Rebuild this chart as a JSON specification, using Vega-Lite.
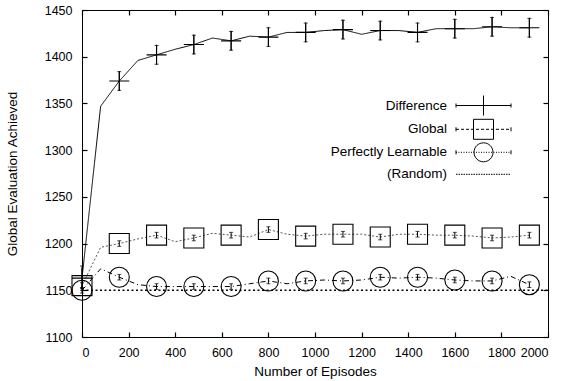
{
  "$schema": "https://vega.github.io/schema/vega-lite/v6.json",
  "width": 466,
  "height": 327,
  "autosize": {"type": "none"},
  "padding": {"left": 82, "top": 10, "right": 21, "bottom": 44},
  "config": {
    "font": "Liberation Sans",
    "view": {"stroke": "black", "strokeWidth": 1},
    "axis": {"labelFont": "Liberation Sans", "titleFont": "Liberation Sans", "labelColor": "black", "titleColor": "black", "labelFontSize": 12.5, "titleFontSize": 13.5, "titleFontWeight": "normal", "grid": false, "domain": false, "tickColor": "black", "tickWidth": 1.2, "labelOverlap": false, "format": "d"}
  },
  "datasets": {
    "lines": [
      {"series": "Difference", "ep": 0, "v": 1163}, {"series": "Difference", "ep": 80, "v": 1347}, {"series": "Difference", "ep": 160, "v": 1374}, {"series": "Difference", "ep": 240, "v": 1396}, {"series": "Difference", "ep": 320, "v": 1402}, {"series": "Difference", "ep": 400, "v": 1408}, {"series": "Difference", "ep": 480, "v": 1413}, {"series": "Difference", "ep": 560, "v": 1420}, {"series": "Difference", "ep": 640, "v": 1417}, {"series": "Difference", "ep": 720, "v": 1422}, {"series": "Difference", "ep": 800, "v": 1421}, {"series": "Difference", "ep": 880, "v": 1426}, {"series": "Difference", "ep": 960, "v": 1426}, {"series": "Difference", "ep": 1040, "v": 1428}, {"series": "Difference", "ep": 1120, "v": 1429}, {"series": "Difference", "ep": 1200, "v": 1424}, {"series": "Difference", "ep": 1280, "v": 1428}, {"series": "Difference", "ep": 1360, "v": 1428}, {"series": "Difference", "ep": 1440, "v": 1426}, {"series": "Difference", "ep": 1520, "v": 1430}, {"series": "Difference", "ep": 1600, "v": 1430}, {"series": "Difference", "ep": 1680, "v": 1430}, {"series": "Difference", "ep": 1760, "v": 1432}, {"series": "Difference", "ep": 1840, "v": 1431}, {"series": "Difference", "ep": 1920, "v": 1431},
      {"series": "Global", "ep": 0, "v": 1155}, {"series": "Global", "ep": 80, "v": 1196}, {"series": "Global", "ep": 160, "v": 1200}, {"series": "Global", "ep": 240, "v": 1205}, {"series": "Global", "ep": 320, "v": 1209}, {"series": "Global", "ep": 400, "v": 1202}, {"series": "Global", "ep": 480, "v": 1206}, {"series": "Global", "ep": 560, "v": 1211}, {"series": "Global", "ep": 640, "v": 1209}, {"series": "Global", "ep": 720, "v": 1207}, {"series": "Global", "ep": 800, "v": 1215}, {"series": "Global", "ep": 880, "v": 1210}, {"series": "Global", "ep": 960, "v": 1208}, {"series": "Global", "ep": 1040, "v": 1210}, {"series": "Global", "ep": 1120, "v": 1210}, {"series": "Global", "ep": 1200, "v": 1210}, {"series": "Global", "ep": 1280, "v": 1207}, {"series": "Global", "ep": 1360, "v": 1210}, {"series": "Global", "ep": 1440, "v": 1210}, {"series": "Global", "ep": 1520, "v": 1209}, {"series": "Global", "ep": 1600, "v": 1209}, {"series": "Global", "ep": 1680, "v": 1208}, {"series": "Global", "ep": 1760, "v": 1206}, {"series": "Global", "ep": 1840, "v": 1207}, {"series": "Global", "ep": 1920, "v": 1209},
      {"series": "Perfectly Learnable", "ep": 0, "v": 1150}, {"series": "Perfectly Learnable", "ep": 80, "v": 1173}, {"series": "Perfectly Learnable", "ep": 160, "v": 1164}, {"series": "Perfectly Learnable", "ep": 240, "v": 1156}, {"series": "Perfectly Learnable", "ep": 320, "v": 1154}, {"series": "Perfectly Learnable", "ep": 400, "v": 1154}, {"series": "Perfectly Learnable", "ep": 480, "v": 1154}, {"series": "Perfectly Learnable", "ep": 560, "v": 1154}, {"series": "Perfectly Learnable", "ep": 640, "v": 1154}, {"series": "Perfectly Learnable", "ep": 720, "v": 1157}, {"series": "Perfectly Learnable", "ep": 800, "v": 1160}, {"series": "Perfectly Learnable", "ep": 880, "v": 1157}, {"series": "Perfectly Learnable", "ep": 960, "v": 1160}, {"series": "Perfectly Learnable", "ep": 1040, "v": 1161}, {"series": "Perfectly Learnable", "ep": 1120, "v": 1160}, {"series": "Perfectly Learnable", "ep": 1200, "v": 1161}, {"series": "Perfectly Learnable", "ep": 1280, "v": 1164}, {"series": "Perfectly Learnable", "ep": 1360, "v": 1163}, {"series": "Perfectly Learnable", "ep": 1440, "v": 1164}, {"series": "Perfectly Learnable", "ep": 1520, "v": 1163}, {"series": "Perfectly Learnable", "ep": 1600, "v": 1161}, {"series": "Perfectly Learnable", "ep": 1680, "v": 1160}, {"series": "Perfectly Learnable", "ep": 1760, "v": 1160}, {"series": "Perfectly Learnable", "ep": 1840, "v": 1165}, {"series": "Perfectly Learnable", "ep": 1920, "v": 1156},
      {"series": "(Random)", "ep": 0, "v": 1150}, {"series": "(Random)", "ep": 2000, "v": 1150}
    ],
    "markers": [
      {"series": "Difference", "ep": 0, "v": 1163, "lo": 1150, "hi": 1176}, {"series": "Difference", "ep": 160, "v": 1374, "lo": 1364, "hi": 1384}, {"series": "Difference", "ep": 320, "v": 1402, "lo": 1392, "hi": 1412}, {"series": "Difference", "ep": 480, "v": 1413, "lo": 1403, "hi": 1423}, {"series": "Difference", "ep": 640, "v": 1417, "lo": 1407, "hi": 1427}, {"series": "Difference", "ep": 800, "v": 1421, "lo": 1411, "hi": 1431}, {"series": "Difference", "ep": 960, "v": 1426, "lo": 1416, "hi": 1436}, {"series": "Difference", "ep": 1120, "v": 1429, "lo": 1419, "hi": 1439}, {"series": "Difference", "ep": 1280, "v": 1428, "lo": 1418, "hi": 1438}, {"series": "Difference", "ep": 1440, "v": 1426, "lo": 1416, "hi": 1436}, {"series": "Difference", "ep": 1600, "v": 1430, "lo": 1420, "hi": 1440}, {"series": "Difference", "ep": 1760, "v": 1432, "lo": 1422, "hi": 1442}, {"series": "Difference", "ep": 1920, "v": 1431, "lo": 1421, "hi": 1441},
      {"series": "Global", "ep": 0, "v": 1155, "lo": 1152, "hi": 1158}, {"series": "Global", "ep": 160, "v": 1200, "lo": 1197, "hi": 1203}, {"series": "Global", "ep": 320, "v": 1209, "lo": 1206, "hi": 1212}, {"series": "Global", "ep": 480, "v": 1206, "lo": 1203, "hi": 1209}, {"series": "Global", "ep": 640, "v": 1209, "lo": 1206, "hi": 1212}, {"series": "Global", "ep": 800, "v": 1215, "lo": 1212, "hi": 1218}, {"series": "Global", "ep": 960, "v": 1208, "lo": 1205, "hi": 1211}, {"series": "Global", "ep": 1120, "v": 1210, "lo": 1207, "hi": 1213}, {"series": "Global", "ep": 1280, "v": 1207, "lo": 1204, "hi": 1210}, {"series": "Global", "ep": 1440, "v": 1210, "lo": 1207, "hi": 1213}, {"series": "Global", "ep": 1600, "v": 1209, "lo": 1206, "hi": 1212}, {"series": "Global", "ep": 1760, "v": 1206, "lo": 1203, "hi": 1209}, {"series": "Global", "ep": 1920, "v": 1209, "lo": 1206, "hi": 1212},
      {"series": "Perfectly Learnable", "ep": 0, "v": 1150, "lo": 1147, "hi": 1153}, {"series": "Perfectly Learnable", "ep": 160, "v": 1164, "lo": 1161, "hi": 1167}, {"series": "Perfectly Learnable", "ep": 320, "v": 1154, "lo": 1151, "hi": 1157}, {"series": "Perfectly Learnable", "ep": 480, "v": 1154, "lo": 1151, "hi": 1157}, {"series": "Perfectly Learnable", "ep": 640, "v": 1154, "lo": 1151, "hi": 1157}, {"series": "Perfectly Learnable", "ep": 800, "v": 1160, "lo": 1157, "hi": 1163}, {"series": "Perfectly Learnable", "ep": 960, "v": 1160, "lo": 1157, "hi": 1163}, {"series": "Perfectly Learnable", "ep": 1120, "v": 1160, "lo": 1157, "hi": 1163}, {"series": "Perfectly Learnable", "ep": 1280, "v": 1164, "lo": 1161, "hi": 1167}, {"series": "Perfectly Learnable", "ep": 1440, "v": 1164, "lo": 1161, "hi": 1167}, {"series": "Perfectly Learnable", "ep": 1600, "v": 1161, "lo": 1158, "hi": 1164}, {"series": "Perfectly Learnable", "ep": 1760, "v": 1160, "lo": 1157, "hi": 1163}, {"series": "Perfectly Learnable", "ep": 1920, "v": 1156, "lo": 1153, "hi": 1159}
    ],
    "keys": [
      {"series": "Difference"}, {"series": "Global"}, {"series": "Perfectly Learnable"}, {"series": "(Random)"}
    ]
  },
  "layer": [
    {
      "data": {"name": "lines"},
      "transform": [{"filter": "datum.series !== '(Random)'"}],
      "mark": {"type": "line", "strokeWidth": 1},
      "encoding": {
        "x": {"field": "ep", "type": "quantitative", "scale": {"domain": [0, 2000], "nice": false},
          "axis": {"orient": "bottom", "values": [0, 200, 400, 600, 800, 1000, 1200, 1400, 1600, 1800, 2000], "tickSize": -5, "labelPadding": 14, "title": "Number of Episodes", "titleY": 34, "titleBaseline": "middle"}},
        "y": {"field": "v", "type": "quantitative", "scale": {"domain": [1100, 1450], "nice": false, "zero": false},
          "axis": {"orient": "left", "values": [1100, 1150, 1200, 1250, 1300, 1350, 1400, 1450], "tickSize": -5, "labelPadding": 15, "title": "Global Evaluation Achieved", "titleX": -70, "titleBaseline": "middle"}},
        "detail": {"field": "series"},
        "color": {"field": "series", "type": "nominal", "scale": {"domain": ["Difference", "Global", "Perfectly Learnable"], "range": ["black", "#555555", "black"]}, "legend": null},
        "strokeDash": {"field": "series", "type": "nominal", "scale": {"domain": ["Difference", "Global", "Perfectly Learnable"], "range": [[1, 0], [2, 2], [5, 3, 1, 3]]}, "legend": null}
      }
    },
    {
      "data": {"name": "lines"},
      "transform": [{"filter": "datum.series === '(Random)'"}],
      "mark": {"type": "line", "strokeWidth": 1.5, "color": "black", "strokeDash": [2, 2.5]},
      "encoding": {
        "x": {"field": "ep", "type": "quantitative", "axis": null},
        "y": {"field": "v", "type": "quantitative", "axis": null}
      }
    },
    {
      "data": {"name": "markers"},
      "mark": {"type": "rule", "color": "black", "strokeWidth": 1},
      "encoding": {
        "x": {"field": "ep", "type": "quantitative", "axis": null},
        "y": {"field": "lo", "type": "quantitative", "axis": null},
        "y2": {"field": "hi"}
      }
    },
    {
      "data": {"name": "markers"},
      "mark": {"type": "tick", "orient": "horizontal", "color": "black", "size": 4, "thickness": 1},
      "encoding": {
        "x": {"field": "ep", "type": "quantitative", "axis": null},
        "y": {"field": "lo", "type": "quantitative", "axis": null}
      }
    },
    {
      "data": {"name": "markers"},
      "mark": {"type": "tick", "orient": "horizontal", "color": "black", "size": 4, "thickness": 1},
      "encoding": {
        "x": {"field": "ep", "type": "quantitative", "axis": null},
        "y": {"field": "hi", "type": "quantitative", "axis": null}
      }
    },
    {
      "data": {"name": "markers"},
      "mark": {"type": "point", "filled": false, "color": "black", "strokeWidth": 1.1, "size": 400, "opacity": 1},
      "encoding": {
        "x": {"field": "ep", "type": "quantitative", "axis": null},
        "y": {"field": "v", "type": "quantitative", "axis": null},
        "shape": {"field": "series", "type": "nominal", "scale": {"domain": ["Difference", "Global", "Perfectly Learnable"], "range": ["M-1,0H1M0,-1V1", "M-1,-1H1V1H-1Z", "M1,0A1,1,0,1,1,-1,0A1,1,0,1,1,1,0"]}, "legend": null}
      }
    },
    {
      "data": {"name": "keys"},
      "mark": {"type": "point", "filled": false, "color": "black", "strokeWidth": 1, "size": 400, "opacity": 0},
      "encoding": {
        "shape": {"field": "series", "type": "nominal",
          "scale": {"domain": ["Difference", "Global", "Perfectly Learnable", "(Random)"],
            "range": [
              "M-2.75,0H2.75M-2.75,-0.2V0.2M2.75,-0.2V0.2M0,-1V1",
              "M-1,-1H1V1H-1ZM-2.75,0H-2.45M-2.25,0H-1.95M-1.75,0H-1.45M-1.25,0H-0.95M-0.75,0H-0.45M-0.25,0H0.05M0.25,0H0.55M0.75,0H1.05M1.25,0H1.55M1.75,0H2.05M2.25,0H2.55M-2.75,-0.2V0.2M2.75,-0.2V0.2",
              "M0.95,0A0.95,0.95,0,1,1,-0.95,0A0.95,0.95,0,1,1,0.95,0M-2.75,0H-2.65M-2.5,0H-2.4M-2.25,0H-2.15M-2,0H-1.9M-1.75,0H-1.65M-1.5,0H-1.4M-1.25,0H-1.15M-1,0H-0.9M-0.75,0H-0.65M-0.5,0H-0.4M-0.25,0H-0.15M0,0H0.1M0.25,0H0.35M0.5,0H0.6M0.75,0H0.85M1,0H1.1M1.25,0H1.35M1.5,0H1.6M1.75,0H1.85M2,0H2.1M2.25,0H2.35M2.5,0H2.6M-2.75,-0.2V0.2M2.75,-0.2V0.2",
              "M-2.75,0H-2.6M-2.5,0H-2.35M-2.25,0H-2.1M-2,0H-1.85M-1.75,0H-1.6M-1.5,0H-1.35M-1.25,0H-1.1M-1,0H-0.85M-0.75,0H-0.6M-0.5,0H-0.35M-0.25,0H-0.1M0,0H0.15M0.25,0H0.4M0.5,0H0.65M0.75,0H0.9M1,0H1.15M1.25,0H1.4M1.5,0H1.65M1.75,0H1.9M2,0H2.15M2.25,0H2.4M2.5,0H2.65"
            ]},
          "legend": {"title": null, "orient": "none", "legendX": 391, "legendY": 85, "padding": 0, "symbolSize": 400, "symbolStrokeColor": "black", "symbolFillColor": "transparent", "symbolOpacity": 1, "symbolStrokeWidth": 1, "labelAlign": "right", "labelOffset": -47, "labelFontSize": 13.5, "labelFont": "Liberation Sans", "labelColor": "black", "rowPadding": -1.2, "labelLimit": 300}}
      }
    },
    {
      "data": {"name": "keys"},
      "mark": {"type": "point", "opacity": 0},
      "encoding": {
        "x": {"datum": 1000, "type": "quantitative", "axis": {"orient": "top", "values": [0, 200, 400, 600, 800, 1000, 1200, 1400, 1600, 1800, 2000], "tickSize": -5, "labels": false, "title": null}},
        "y": {"datum": 1200, "type": "quantitative", "axis": {"orient": "right", "values": [1100, 1150, 1200, 1250, 1300, 1350, 1400, 1450], "tickSize": -5, "labels": false, "title": null}}
      }
    }
  ],
  "resolve": {"scale": {"shape": "independent"}, "axis": {"x": "independent", "y": "independent"}, "legend": {"shape": "independent"}}
}
